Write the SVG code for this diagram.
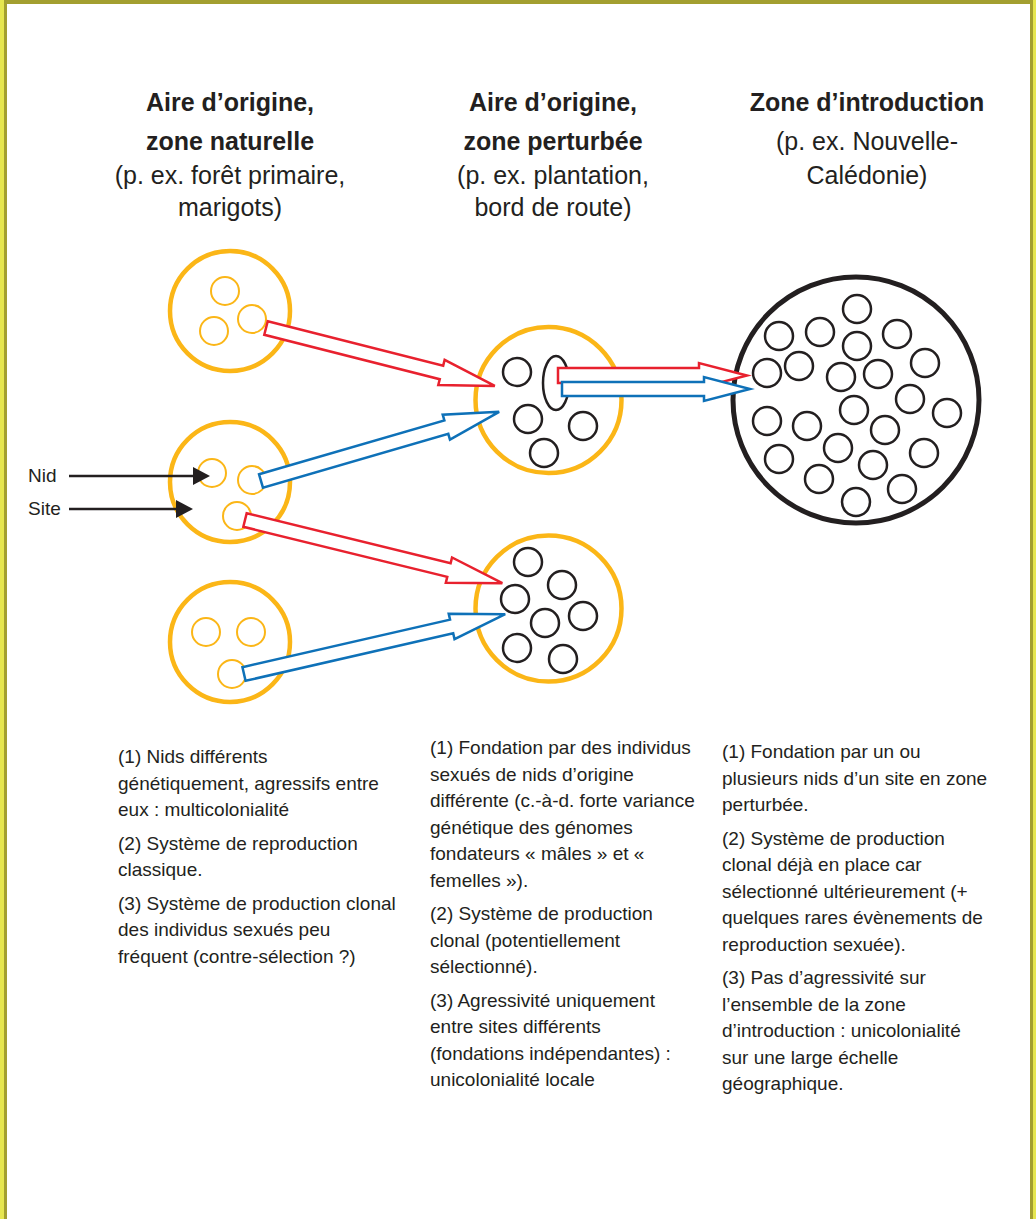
<svg xmlns="http://www.w3.org/2000/svg" width="1036" height="1219" viewBox="0 0 1036 1219">
<style>
.t{font-family:"Liberation Sans",Arial,sans-serif;fill:#231f20}
.h{font-size:25px;text-anchor:middle}
.b{font-weight:bold}
.body{font-size:19px}
.orange{fill:none;stroke:#fbb617;stroke-width:4.5}
.os{fill:none;stroke:#fbb617;stroke-width:2}
.bk{fill:none;stroke:#231f20;stroke-width:2.5}
.red{fill:#fff;stroke:#e8212e;stroke-width:2.5;stroke-linejoin:miter}
.blue{fill:#fff;stroke:#0e71b8;stroke-width:2.5;stroke-linejoin:miter}
</style>
<!-- frame -->
<rect x="0" y="0" width="1036" height="1219" fill="#e6e650"/>
<rect x="4" y="0" width="1029" height="1219" fill="#a39f30"/>
<rect x="7" y="4" width="1023" height="1215" fill="#ffffff"/>

<!-- titles -->
<g id="title-1">
<text class="t h b" x="230" y="111">Aire d’origine,</text>
<text class="t h b" x="230" y="150">zone naturelle</text>
<text class="t h" x="230" y="184">(p. ex. forêt primaire,</text>
<text class="t h" x="230" y="216">marigots)</text>
</g>
<g id="title-2">
<text class="t h b" x="553" y="111">Aire d’origine,</text>
<text class="t h b" x="553" y="150">zone perturbée</text>
<text class="t h" x="553" y="184">(p. ex. plantation,</text>
<text class="t h" x="553" y="216">bord de route)</text>
</g>
<g id="title-3">
<text class="t h b" x="867" y="111">Zone d’introduction</text>
<text class="t h" x="867" y="150">(p. ex. Nouvelle-</text>
<text class="t h" x="867" y="184">Calédonie)</text>
</g>

<!-- nodes -->
<g id="natural-zone-1">
<circle class="orange" cx="230" cy="311" r="60"/>
<circle class="os" cx="225" cy="291" r="14"/>
<circle class="os" cx="252" cy="319" r="14"/>
<circle class="os" cx="214" cy="331" r="14"/>
</g>
<g id="natural-zone-2">
<circle class="orange" cx="230" cy="482" r="60"/>
<circle class="os" cx="212" cy="473" r="14"/>
<circle class="os" cx="252" cy="480" r="14"/>
<circle class="os" cx="237" cy="516" r="14"/>
</g>
<g id="natural-zone-3">
<circle class="orange" cx="230" cy="642" r="60"/>
<circle class="os" cx="206" cy="632" r="14"/>
<circle class="os" cx="251" cy="632" r="14"/>
<circle class="os" cx="232" cy="674" r="14"/>
</g>
<g id="disturbed-zone-1">
<circle class="orange" cx="548.5" cy="400" r="73"/>
<circle class="bk" cx="517" cy="372" r="14"/>
<ellipse class="bk" cx="556" cy="383" rx="13" ry="27"/>
<circle class="bk" cx="528" cy="419" r="14"/>
<circle class="bk" cx="583" cy="426" r="14"/>
<circle class="bk" cx="544" cy="453" r="14"/>
</g>
<g id="disturbed-zone-2">
<circle class="orange" cx="548.5" cy="608.5" r="73"/>
<circle class="bk" cx="528" cy="562" r="14"/>
<circle class="bk" cx="562" cy="585" r="14"/>
<circle class="bk" cx="515" cy="599" r="14"/>
<circle class="bk" cx="545" cy="623" r="14"/>
<circle class="bk" cx="583" cy="616" r="14"/>
<circle class="bk" cx="517" cy="648" r="14"/>
<circle class="bk" cx="563" cy="659" r="14"/>
</g>
<g id="introduction-zone">
<circle cx="856" cy="400" r="123" fill="none" stroke="#231f20" stroke-width="5"/>
<circle class="bk" cx="857" cy="309" r="14"/>
<circle class="bk" cx="779" cy="336" r="14"/>
<circle class="bk" cx="820" cy="332" r="14"/>
<circle class="bk" cx="857" cy="346" r="14"/>
<circle class="bk" cx="897" cy="334" r="14"/>
<circle class="bk" cx="767" cy="373" r="14"/>
<circle class="bk" cx="799" cy="366" r="14"/>
<circle class="bk" cx="841" cy="377" r="14"/>
<circle class="bk" cx="878" cy="374" r="14"/>
<circle class="bk" cx="925" cy="363" r="14"/>
<circle class="bk" cx="910" cy="399" r="14"/>
<circle class="bk" cx="854" cy="410" r="14"/>
<circle class="bk" cx="947" cy="413" r="14"/>
<circle class="bk" cx="767" cy="421" r="14"/>
<circle class="bk" cx="807" cy="426" r="14"/>
<circle class="bk" cx="885" cy="430" r="14"/>
<circle class="bk" cx="838" cy="448" r="14"/>
<circle class="bk" cx="779" cy="459" r="14"/>
<circle class="bk" cx="924" cy="453" r="14"/>
<circle class="bk" cx="873" cy="465" r="14"/>
<circle class="bk" cx="819" cy="479" r="14"/>
<circle class="bk" cx="902" cy="489" r="14"/>
<circle class="bk" cx="856" cy="502" r="14"/>
</g>

<!-- connectors -->
<g id="connectors">
<polygon class="red" transform="translate(266,328) rotate(14.2)" points="0,-7 181,-7 181,-13 236,0 181,13 181,7 0,7"/>
<polygon class="blue" transform="translate(261,481) rotate(-16.2)" points="0,-7 193,-7 193,-13 248,0 193,13 193,7 0,7"/>
<polygon class="red" transform="translate(245,520) rotate(13.8)" points="0,-7 210,-7 210,-13 265,0 210,13 210,7 0,7"/>
<polygon class="blue" transform="translate(244,674) rotate(-12.9)" points="0,-7 213,-7 213,-13 268,0 213,13 213,7 0,7"/>
<polygon class="red" points="558,368 699,368 699,363 747,375.5 699,388 699,383 558,383"/>
<polygon class="blue" points="562,382 704,382 704,377 750,389 704,401 704,396 562,396"/>
<line x1="69" y1="476" x2="195" y2="476" stroke="#231f20" stroke-width="2.5"/>
<polygon points="193,467 210,476 193,485" fill="#231f20"/>
<line x1="69" y1="509" x2="178" y2="509" stroke="#231f20" stroke-width="2.5"/>
<polygon points="176,500 193,509 176,518" fill="#231f20"/>
</g>
<g id="labels">
<text class="t body" x="28" y="482">Nid</text>
<text class="t body" x="28" y="515">Site</text>
</g>

<!-- descriptions -->
<g id="desc-1">
<text class="t body" x="118" y="763">
<tspan x="118">(1) Nids différents</tspan>
<tspan x="118" dy="26.5">génétiquement, agressifs entre</tspan>
<tspan x="118" dy="26.5">eux : multicolonialité</tspan>
<tspan x="118" dy="33.5">(2) Système de reproduction</tspan>
<tspan x="118" dy="26.5">classique.</tspan>
<tspan x="118" dy="33.5">(3) Système de production clonal</tspan>
<tspan x="118" dy="26.5">des individus sexués peu</tspan>
<tspan x="118" dy="26.5">fréquent (contre-sélection ?)</tspan>
</text>
</g>
<g id="desc-2">
<text class="t body" x="430" y="754">
<tspan x="430">(1) Fondation par des individus</tspan>
<tspan x="430" dy="26.5">sexués de nids d’origine</tspan>
<tspan x="430" dy="26.5">différente (c.-à-d. forte variance</tspan>
<tspan x="430" dy="26.5">génétique des génomes</tspan>
<tspan x="430" dy="26.5">fondateurs « mâles » et «</tspan>
<tspan x="430" dy="26.5">femelles »).</tspan>
<tspan x="430" dy="33.5">(2) Système de production</tspan>
<tspan x="430" dy="26.5">clonal (potentiellement</tspan>
<tspan x="430" dy="26.5">sélectionné).</tspan>
<tspan x="430" dy="33.5">(3) Agressivité uniquement</tspan>
<tspan x="430" dy="26.5">entre sites différents</tspan>
<tspan x="430" dy="26.5">(fondations indépendantes) :</tspan>
<tspan x="430" dy="26.5">unicolonialité locale</tspan>
</text>
</g>
<g id="desc-3">
<text class="t body" x="722" y="758">
<tspan x="722">(1) Fondation par un ou</tspan>
<tspan x="722" dy="26.5">plusieurs nids d’un site en zone</tspan>
<tspan x="722" dy="26.5">perturbée.</tspan>
<tspan x="722" dy="33.5">(2) Système de production</tspan>
<tspan x="722" dy="26.5">clonal déjà en place car</tspan>
<tspan x="722" dy="26.5">sélectionné ultérieurement (+</tspan>
<tspan x="722" dy="26.5">quelques rares évènements de</tspan>
<tspan x="722" dy="26.5">reproduction sexuée).</tspan>
<tspan x="722" dy="33.5">(3) Pas d’agressivité sur</tspan>
<tspan x="722" dy="26.5">l’ensemble de la zone</tspan>
<tspan x="722" dy="26.5">d’introduction : unicolonialité</tspan>
<tspan x="722" dy="26.5">sur une large échelle</tspan>
<tspan x="722" dy="26.5">géographique.</tspan>
</text>
</g>
</svg>
